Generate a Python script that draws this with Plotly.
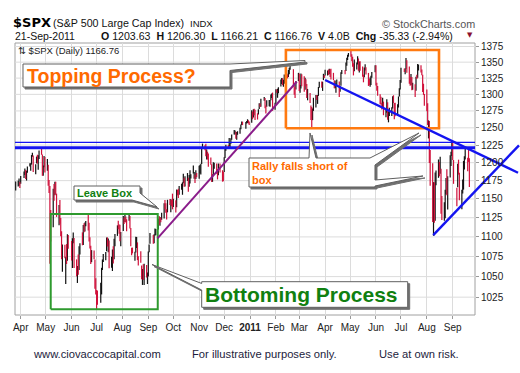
import math
import pandas as pd
import plotly.graph_objects as go

# ---------------- data (S&P 500 daily bars) ----------------
HOLIDAYS = ['2010-04-02', '2010-05-31', '2010-07-05', '2010-09-06', '2010-11-25',
            '2010-12-24', '2011-01-17', '2011-02-21', '2011-04-22', '2011-05-30',
            '2011-07-04', '2011-09-05']
FIRST_DAY, LAST_DAY = '2010-03-26', '2011-09-21'

CLOSE = [
    1166.6, 1173.2, 1173.3, 1169.4,  # Mar 2010
    1178.1, 1187.4, 1189.4, 1182.5, 1186.4, 1194.4, 1196.5, 1197.3, 1210.7, 1211.7, 1192.1,
    1197.5, 1207.2, 1205.9, 1208.7, 1217.3, 1212.1, 1183.7, 1191.4, 1206.8, 1186.7,  # Apr
    1202.3, 1173.6, 1165.9, 1128.2, 1110.9, 1159.7, 1155.8, 1171.7, 1157.4, 1135.7,
    1136.9, 1120.8, 1115.1, 1071.6, 1087.7, 1073.7, 1074.0, 1068.0, 1103.1, 1089.4,  # May
    1070.7, 1098.4, 1102.8, 1064.9, 1050.5, 1062.0, 1055.7, 1086.8, 1091.6, 1089.6, 1115.2,
    1114.6, 1116.0, 1117.5, 1113.2, 1095.3, 1092.0, 1073.7, 1076.8, 1074.6, 1041.2, 1030.7,  # Jun
    1027.4, 1022.6, 1028.1, 1060.3, 1070.3, 1078.0, 1078.8, 1095.3, 1095.2, 1096.5, 1064.9,
    1071.3, 1083.5, 1069.6, 1093.7, 1102.7, 1115.0, 1113.8, 1106.1, 1101.5, 1101.6,  # Jul
    1125.9, 1120.5, 1127.2, 1125.8, 1121.6, 1127.8, 1121.1, 1089.5, 1083.6, 1079.3, 1079.4,
    1092.5, 1094.2, 1075.6, 1071.7, 1067.4, 1051.9, 1055.3, 1047.2, 1064.6, 1048.9, 1049.3,  # Aug
    1080.3, 1090.1, 1104.5, 1091.8, 1098.9, 1104.2, 1109.6, 1121.9, 1121.1, 1125.1, 1124.7,
    1125.6, 1142.7, 1139.8, 1134.3, 1124.8, 1148.7, 1142.2, 1147.7, 1144.7, 1141.2,  # Sep
    1146.2, 1137.0, 1160.8, 1160.0, 1158.1, 1165.2, 1165.3, 1169.8, 1178.1, 1173.8, 1176.2,
    1184.7, 1165.9, 1178.2, 1180.3, 1183.1, 1185.6, 1185.6, 1182.4, 1183.8, 1183.3,  # Oct
    1184.4, 1193.6, 1198.0, 1221.1, 1225.9, 1223.3, 1213.4, 1218.7, 1213.5, 1199.2, 1197.8,
    1178.3, 1178.6, 1196.7, 1199.7, 1197.8, 1180.7, 1198.4, 1189.4, 1187.8, 1180.6,  # Nov
    1206.1, 1221.5, 1224.7, 1223.1, 1223.8, 1228.3, 1233.0, 1240.4, 1240.5, 1241.6, 1235.2,
    1242.9, 1243.9, 1247.1, 1254.6, 1258.8, 1256.8, 1257.5, 1258.5, 1259.8, 1257.9, 1257.6,  # Dec
    1271.9, 1270.2, 1276.6, 1273.9, 1271.5, 1269.8, 1274.5, 1286.0, 1283.8, 1293.2,
    1295.0, 1281.9, 1280.3, 1283.4, 1290.8, 1291.2, 1296.6, 1299.5, 1276.3, 1286.1,  # Jan 2011
    1307.6, 1304.0, 1307.1, 1310.9, 1319.1, 1324.6, 1320.9, 1321.9, 1329.2, 1332.3,
    1328.0, 1336.3, 1340.4, 1343.0, 1315.4, 1307.4, 1306.1, 1319.9, 1327.2,  # Feb
    1306.3, 1308.4, 1331.0, 1321.2, 1310.1, 1321.8, 1320.0, 1295.1, 1304.3, 1296.4, 1281.9, 1256.9,
    1273.7, 1279.2, 1298.4, 1293.8, 1297.5, 1309.7, 1313.8, 1310.2, 1319.4, 1328.3, 1325.8,  # Mar
    1332.4, 1332.9, 1332.6, 1335.5, 1333.5, 1328.2, 1324.5, 1314.2, 1314.4, 1314.5,
    1319.7, 1305.1, 1312.6, 1330.4, 1337.4, 1335.3, 1347.2, 1355.7, 1360.5, 1363.6,  # Apr
    1361.2, 1356.6, 1347.3, 1335.1, 1340.2, 1346.3, 1357.2, 1342.1, 1348.7, 1337.8, 1329.5,
    1329.0, 1340.7, 1343.6, 1333.3, 1317.4, 1316.3, 1320.5, 1325.7, 1331.1, 1345.2,  # May
    1314.6, 1312.9, 1300.2, 1286.2, 1284.9, 1279.6, 1289.0, 1271.0, 1271.8, 1287.9, 1265.4,
    1267.6, 1271.5, 1278.4, 1295.5, 1287.1, 1283.5, 1268.5, 1280.1, 1296.7, 1307.4, 1320.6,  # Jun
    1339.7, 1337.9, 1339.2, 1353.2, 1343.8, 1319.5, 1313.6, 1317.7, 1308.9, 1316.1,
    1305.4, 1326.7, 1325.8, 1343.8, 1345.0, 1337.4, 1331.9, 1304.9, 1300.7, 1292.3,  # Jul
    1286.9, 1254.1, 1260.3, 1200.1, 1199.4, 1119.5, 1172.5, 1120.8, 1172.6, 1178.8, 1204.5, 1192.8,
    1193.9, 1140.7, 1123.5, 1123.8, 1162.4, 1177.6, 1159.3, 1176.8, 1210.1, 1212.9, 1218.9,  # Aug
    1204.4, 1174.0, 1165.2, 1198.6, 1185.9, 1154.2, 1162.3, 1172.9, 1188.7, 1209.1,
    1216.0, 1204.1, 1202.1, 1166.8,  # Sep
]
HIGH = [
    1173.9, 1174.9, 1177.8, 1173.1,
    1181.4, 1187.7, 1191.8, 1189.6, 1188.6, 1194.7, 1199.2, 1199.0, 1210.7, 1213.9, 1210.2,
    1197.9, 1208.6, 1211.0, 1210.3, 1217.3, 1219.8, 1211.4, 1195.9, 1209.4, 1207.9,
    1205.1, 1197.0, 1176.0, 1167.6, 1135.1, 1163.9, 1170.5, 1173.6, 1173.6, 1157.2,
    1141.9, 1148.7, 1124.8, 1107.3, 1090.2, 1090.0, 1074.8, 1090.8, 1103.5, 1102.6,
    1094.8, 1098.4, 1105.7, 1098.6, 1071.4, 1063.1, 1077.7, 1087.9, 1092.0, 1105.9, 1115.6,
    1117.7, 1118.7, 1120.7, 1131.2, 1118.5, 1099.6, 1088.6, 1083.1, 1082.6, 1071.2, 1048.1,
    1033.6, 1032.9, 1042.5, 1060.9, 1071.3, 1078.2, 1080.8, 1099.1, 1099.4, 1098.1, 1095.3,
    1074.7, 1083.9, 1088.0, 1097.5, 1103.7, 1115.0, 1121.0, 1116.1, 1115.9, 1106.4,
    1127.3, 1125.4, 1128.7, 1126.6, 1123.0, 1129.3, 1127.2, 1111.4, 1086.1, 1086.3, 1081.0,
    1100.1, 1099.8, 1093.0, 1075.3, 1081.6, 1063.7, 1059.4, 1065.2, 1065.8, 1064.5, 1055.1,
    1081.3, 1090.1, 1105.1, 1102.6, 1103.3, 1110.9, 1110.3, 1123.5, 1127.4, 1126.0, 1125.4,
    1131.5, 1144.4, 1148.6, 1144.4, 1136.1, 1148.9, 1149.9, 1150.0, 1148.6, 1157.2,
    1150.3, 1148.2, 1162.8, 1162.3, 1163.9, 1167.7, 1170.6, 1172.6, 1184.4, 1178.9, 1181.2,
    1185.5, 1178.8, 1182.9, 1189.4, 1183.9, 1196.1, 1187.1, 1183.1, 1189.5, 1185.5,
    1195.8, 1196.6, 1198.3, 1222.1, 1227.1, 1224.6, 1226.8, 1218.8, 1215.5, 1213.0, 1207.4,
    1197.8, 1183.6, 1200.7, 1200.0, 1198.9, 1190.8, 1198.9, 1198.9, 1189.4, 1187.4,
    1207.6, 1221.9, 1225.6, 1225.0, 1235.1, 1228.9, 1234.7, 1240.4, 1246.7, 1246.1, 1244.3,
    1243.8, 1245.0, 1250.0, 1255.0, 1259.4, 1259.0, 1258.6, 1259.9, 1262.6, 1261.1, 1259.3,
    1276.2, 1274.1, 1277.6, 1278.2, 1276.8, 1271.5, 1277.6, 1286.6, 1286.1, 1293.2,
    1296.1, 1294.6, 1283.0, 1291.2, 1291.3, 1291.3, 1299.7, 1301.3, 1302.7, 1287.2,
    1308.0, 1307.6, 1308.6, 1311.0, 1322.9, 1325.0, 1324.9, 1322.4, 1330.8, 1332.3,
    1330.8, 1337.8, 1341.3, 1344.1, 1338.9, 1318.0, 1310.9, 1320.6, 1333.2,
    1332.3, 1314.4, 1332.3, 1331.1, 1327.7, 1325.7, 1323.2, 1315.7, 1308.3, 1301.9, 1283.1, 1280.9,
    1278.7, 1294.8, 1299.0, 1299.0, 1299.0, 1311.3, 1319.2, 1319.7, 1319.4, 1331.7, 1329.8,
    1337.9, 1336.7, 1338.2, 1339.5, 1338.8, 1339.5, 1333.2, 1321.4, 1321.4, 1316.8,
    1322.9, 1319.7, 1312.9, 1334.0, 1337.5, 1337.5, 1349.6, 1357.1, 1361.7, 1364.6,
    1370.6, 1362.6, 1358.6, 1348.2, 1354.4, 1349.4, 1359.4, 1355.9, 1351.0, 1351.6, 1343.3,
    1330.4, 1341.7, 1346.8, 1342.0, 1333.1, 1323.7, 1325.9, 1328.5, 1334.6, 1345.2,
    1345.2, 1318.0, 1312.9, 1300.2, 1296.2, 1287.3, 1294.9, 1289.0, 1277.0, 1292.5, 1287.9,
    1274.1, 1279.8, 1280.4, 1297.1, 1298.6, 1286.8, 1287.4, 1284.9, 1296.8, 1309.2, 1322.0,
    1341.0, 1340.0, 1340.1, 1356.5, 1353.0, 1343.3, 1327.2, 1331.5, 1326.7, 1317.7,
    1315.5, 1327.0, 1330.4, 1347.0, 1346.1, 1345.0, 1338.5, 1330.3, 1316.3, 1300.4,
    1307.4, 1286.6, 1261.0, 1260.1, 1218.1, 1199.0, 1172.9, 1172.6, 1186.3, 1189.0, 1204.5, 1201.1,
    1208.5, 1191.5, 1154.1, 1145.5, 1162.4, 1178.6, 1190.7, 1181.2, 1210.3, 1215.4, 1230.7,
    1229.3, 1203.7, 1165.3, 1198.6, 1204.2, 1185.9, 1162.6, 1176.4, 1202.4, 1209.1,
    1220.1, 1207.1, 1220.4, 1206.3,
]
LOW = [
    1161.5, 1167.0, 1168.0, 1165.0,
    1170.7, 1178.6, 1182.8, 1177.2, 1175.1, 1186.0, 1194.7, 1188.8, 1197.3, 1208.5, 1186.8,
    1183.7, 1199.0, 1198.9, 1190.2, 1205.1, 1211.1, 1181.6, 1181.8, 1193.4, 1186.3,
    1188.6, 1168.1, 1158.2, 1065.8, 1094.2, 1112.4, 1147.7, 1155.0, 1156.1, 1126.1,
    1115.0, 1117.2, 1100.7, 1071.6, 1055.9, 1072.7, 1040.8, 1065.6, 1069.7, 1084.8,
    1069.9, 1060.5, 1091.8, 1060.7, 1050.3, 1042.2, 1052.3, 1058.3, 1077.4, 1089.3, 1089.6,
    1105.9, 1107.1, 1113.8, 1108.2, 1094.2, 1085.3, 1065.6, 1067.9, 1071.5, 1035.2, 1028.3,
    1010.9, 1015.9, 1018.4, 1028.3, 1058.2, 1068.1, 1070.4, 1081.7, 1087.7, 1080.5, 1060.3,
    1061.1, 1056.9, 1066.2, 1071.7, 1087.9, 1101.3, 1109.8, 1104.1, 1094.3, 1088.0,
    1107.7, 1116.8, 1119.5, 1118.8, 1107.2, 1120.9, 1111.0, 1088.0, 1076.7, 1079.0, 1069.6,
    1080.0, 1085.8, 1070.5, 1063.9, 1067.1, 1046.7, 1039.8, 1045.9, 1039.7, 1048.8, 1040.9,
    1050.0, 1080.4, 1091.3, 1091.2, 1091.8, 1101.7, 1102.0, 1109.6, 1115.6, 1114.6, 1118.9,
    1122.4, 1124.1, 1136.2, 1131.6, 1122.8, 1132.1, 1142.0, 1132.1, 1140.3, 1136.1,
    1139.4, 1131.9, 1139.0, 1154.9, 1151.4, 1155.6, 1162.5, 1155.7, 1171.3, 1166.7, 1167.1,
    1174.6, 1159.7, 1166.7, 1171.2, 1178.0, 1184.7, 1177.7, 1171.7, 1177.1, 1179.7,
    1177.6, 1184.7, 1183.6, 1198.0, 1220.4, 1217.6, 1208.9, 1204.3, 1204.5, 1194.1, 1197.2,
    1173.0, 1173.3, 1181.4, 1191.3, 1184.6, 1176.7, 1182.5, 1186.3, 1173.6, 1174.1,
    1187.0, 1206.6, 1216.8, 1220.7, 1223.3, 1219.5, 1226.9, 1232.6, 1240.3, 1240.3, 1234.0,
    1232.8, 1239.9, 1241.5, 1247.8, 1254.2, 1254.0, 1248.6, 1256.2, 1257.2, 1256.3, 1254.2,
    1257.6, 1262.7, 1265.4, 1268.7, 1261.7, 1262.2, 1269.6, 1277.8, 1280.9, 1281.1,
    1290.2, 1278.9, 1271.3, 1281.1, 1282.1, 1281.1, 1291.0, 1294.4, 1275.1, 1276.6,
    1286.1, 1302.6, 1294.8, 1301.7, 1312.0, 1316.0, 1314.1, 1311.7, 1316.1, 1326.9,
    1324.6, 1326.6, 1331.0, 1338.1, 1312.3, 1299.3, 1294.3, 1307.3, 1320.3,
    1305.3, 1302.6, 1309.1, 1312.6, 1304.0, 1306.9, 1312.3, 1294.3, 1291.0, 1287.0, 1261.6, 1249.1,
    1261.3, 1275.1, 1280.1, 1291.6, 1285.6, 1297.7, 1310.2, 1310.2, 1305.3, 1321.9, 1325.0,
    1328.9, 1329.1, 1330.0, 1330.9, 1326.6, 1322.9, 1321.8, 1309.2, 1309.5, 1302.4,
    1313.7, 1295.9, 1304.0, 1313.1, 1331.5, 1331.1, 1336.0, 1344.4, 1353.6, 1358.7,
    1358.6, 1351.4, 1342.6, 1329.2, 1335.6, 1338.6, 1346.3, 1336.4, 1333.6, 1336.6, 1327.3,
    1318.5, 1326.3, 1336.7, 1330.7, 1312.9, 1313.9, 1311.8, 1314.4, 1325.7, 1334.0,
    1313.7, 1305.6, 1297.9, 1284.9, 1284.7, 1277.1, 1279.3, 1268.6, 1265.6, 1272.2, 1261.9,
    1258.1, 1267.4, 1267.6, 1278.5, 1286.8, 1262.7, 1267.2, 1267.5, 1280.1, 1296.7, 1307.6,
    1318.0, 1334.6, 1330.9, 1339.2, 1333.2, 1316.4, 1313.3, 1314.5, 1306.3, 1307.1,
    1295.9, 1305.4, 1323.7, 1325.5, 1336.9, 1333.9, 1329.6, 1303.6, 1299.2, 1282.9,
    1274.7, 1254.0, 1234.6, 1199.5, 1168.1, 1119.3, 1101.5, 1118.4, 1121.1, 1168.7, 1178.9, 1180.9,
    1184.4, 1130.1, 1122.0, 1121.1, 1124.4, 1156.3, 1155.1, 1135.9, 1179.4, 1195.2, 1209.4,
    1203.9, 1170.6, 1140.1, 1165.9, 1183.3, 1148.4, 1136.1, 1157.4, 1162.7, 1190.3,
    1204.5, 1188.0, 1201.0, 1166.2,
]

# annotation lines (date, price) pairs
PURPLE_LINE = [('2010-09-12', 1098.2), ('2011-02-26', 1319.4)]
BLUE_DOWN_LINE = [('2011-04-01', 1322.0), ('2011-11-18 08:00', 1185.9)]
BLUE_UP_LINE = [('2011-08-08 16:00', 1102.4), ('2011-11-19 12:00', 1224.6)]
RESIST_THIN, RESIST_THICK = 1228.9, 1221.2
ORANGE_BOX = [('2011-02-13', '2011-08-15 14:00'), (1249.3, 1369.4)]
GREEN_BOX = [('2010-05-07', '2010-09-12 08:00'), (1010.7, 1129.9)]

Y_TICKS = list(range(1025, 1376, 25))
MONTH_TICKS = ['2010-04-01', '2010-05-01', '2010-06-01', '2010-07-01', '2010-08-01', '2010-09-01',
               '2010-10-01', '2010-11-01', '2010-12-01', '2011-01-01', '2011-02-01', '2011-03-01',
               '2011-04-01', '2011-05-01', '2011-06-01', '2011-07-01', '2011-08-01', '2011-09-01']
MONTH_LABELS = ['Apr', 'May', 'Jun', 'Jul', 'Aug', 'Sep', 'Oct', 'Nov', 'Dec', '<b>2011</b>',
                'Feb', 'Mar', 'Apr', 'May', 'Jun', 'Jul', 'Aug', 'Sep']

# ---------------- layout geometry ----------------
W, H = 520, 373
ML, MR, MT, MB = 15, 0, 43, 58
PW, PH = W - ML - MR, H - MT - MB
FRAME_FRAC = 460 / PW
X_START = pd.Timestamp('2010-03-25 04:00')
X_END = pd.Timestamp('2011-11-20 17:00')
FRAME_END = X_START + (X_END - X_START) * FRAME_FRAC
Y_MIN, Y_MAX = 1003.8, 1380.65

UP_COLOR, DOWN_COLOR = '#111111', '#D0103A'
GRID = '#DCDCDC'
ORANGE, GREEN, BLUE, PURPLE = '#FF6A00', '#2E9A2E', '#1414F0', '#8A1C8A'
FONT = 'Liberation Sans, Arial, sans-serif'

dates = pd.bdate_range(FIRST_DAY, LAST_DAY)
dates = dates[~dates.isin(pd.to_datetime(HOLIDAYS))]
n = min(len(dates), len(CLOSE), len(HIGH), len(LOW))

fig = go.Figure()

# horizontal grid (inside the frame only)
gx, gy = [], []
for v in Y_TICKS:
    gx += [X_START, FRAME_END, None]
    gy += [v, v, None]
fig.add_trace(go.Scatter(x=gx, y=gy, mode='lines', line=dict(color=GRID, width=1),
                         hoverinfo='skip'))

# price bars
ux, uy, dx, dy = [], [], [], []
prev = None
for i in range(n):
    d, h, l, c = dates[i], HIGH[i], LOW[i], CLOSE[i]
    if prev is None or c >= prev:
        ux += [d, d, None]; uy += [l, h, None]
    else:
        dx += [d, d, None]; dy += [l, h, None]
    prev = c
fig.add_trace(go.Scatter(x=ux, y=uy, mode='lines', line=dict(color=UP_COLOR, width=1.2),
                         hoverinfo='skip'))
fig.add_trace(go.Scatter(x=dx, y=dy, mode='lines', line=dict(color=DOWN_COLOR, width=1.2),
                         hoverinfo='skip'))

# boxes
def rect_trace(box, color, width):
    (x0, x1), (y0, y1) = box
    return go.Scatter(x=[x0, x1, x1, x0, x0], y=[y0, y0, y1, y1, y0], mode='lines',
                      line=dict(color=color, width=width), hoverinfo='skip')

fig.add_trace(rect_trace(GREEN_BOX, GREEN, 2))
fig.add_trace(rect_trace(ORANGE_BOX, '#FF7A10', 2.6))

# resistance lines
fig.add_trace(go.Scatter(x=[X_START, FRAME_END], y=[RESIST_THIN] * 2, mode='lines',
                         line=dict(color=BLUE, width=1.4), hoverinfo='skip'))
fig.add_trace(go.Scatter(x=[X_START, FRAME_END], y=[RESIST_THICK] * 2, mode='lines',
                         line=dict(color=BLUE, width=3), hoverinfo='skip'))

# trend lines
for pts, col, wd in [(PURPLE_LINE, PURPLE, 2), (BLUE_DOWN_LINE, BLUE, 2.4), (BLUE_UP_LINE, BLUE, 2.4)]:
    fig.add_trace(go.Scatter(x=[p[0] for p in pts], y=[p[1] for p in pts], mode='lines',
                             line=dict(color=col, width=wd), hoverinfo='skip'))

# ---------------- callouts (pixel layout -> paper) ----------------
def pxx(x):
    return (x - ML) / PW

def pxy(y):
    return (H - MB - y) / PH

def path(points, ox=0, oy=0):
    return 'M ' + ' L '.join(f'{pxx(x + ox):.5f},{pxy(y + oy):.5f}' for x, y in points) + ' Z'

CALLOUTS = [
    [(23, 64), (230, 64), (305, 60.5), (305, 62), (230, 70.5), (230, 87), (23, 87)],
    [(249, 158), (309, 158), (310, 133), (316, 158), (370, 158), (419, 133), (375, 165),
     (375, 180), (423, 176), (375, 186), (375, 187), (249, 187)],
    [(74, 186), (140, 186), (140, 193), (157, 207), (132, 200), (74, 200)],
    [(201.7, 281.7), (407.7, 281.7), (407.7, 307.3), (201.7, 307.3), (201.7, 290),
     (152, 264.5), (201.7, 283.5)],
]
shapes = [dict(type='rect', xref='paper', yref='paper', x0=0, x1=FRAME_FRAC, y0=0, y1=1,
               line=dict(color='#A0A0A0', width=1), layer='below')]
for pts in CALLOUTS:
    shapes.append(dict(type='path', xref='paper', yref='paper', path=path(pts, 2, 2),
                       fillcolor='#707070', line=dict(color='#707070', width=1), layer='above'))
    shapes.append(dict(type='path', xref='paper', yref='paper', path=path(pts),
                       fillcolor='white', line=dict(color='#606060', width=1), layer='above'))

def ann(text, x, y, size, color='#111', xanchor='left', family=FONT, align='left'):
    return dict(text=text, x=pxx(x), y=pxy(y), xref='paper', yref='paper', showarrow=False,
                xanchor=xanchor, yanchor='middle', align=align,
                font=dict(family=family, size=size, color=color))

annotations = [
    ann('<b>$SPX</b>', 10.5, 22.5, 13, '#000', family='DejaVu Sans, sans-serif'),
    ann('(S&P 500 Large Cap Index)', 51, 23, 10.7, '#111'),
    ann('INDX', 187.5, 23.5, 9.5, '#111'),
    ann('21-Sep-2011', 12.5, 35.5, 10.5, '#111'),
    ann('<b>O</b> 1203.63  <b>H</b> 1206.30  <b>L</b> 1166.21  <b>C</b> 1166.76  '
        '<b>V</b> 4.0B  <b>Chg</b> -35.33 (-2.94%)', 98.5, 35.5, 10.6, '#111'),
    ann('▼', 470, 35, 7, '#8B1030', xanchor='center', family='DejaVu Sans, sans-serif'),
    ann('© StockCharts.com', 477, 24.5, 10.8, '#555', xanchor='right'),
    ann('<span style="font-family:DejaVu Sans">⇅</span> $SPX (Daily) 1166.76', 15.5, 50.5, 9.5, '#222'),
    ann('<b>Topping Process?</b>', 25, 75.5, 19.5, ORANGE),
    ann('<b>Rally falls short of<br>box</b>', 249.5, 173, 11, ORANGE),
    ann('<b>Leave Box</b>', 75, 193, 11, '#108010'),
    ann('<b>Bottoming Process</b>', 202.5, 294.5, 21, '#108010'),
    ann('www.ciovaccocapital.com', 97, 353.5, 11.2, '#1C1C3C', xanchor='center'),
    ann('For illustrative purposes only.', 264, 353.5, 11.2, '#1C1C3C', xanchor='center'),
    ann('Use at own risk.', 419, 353.5, 11.2, '#1C1C3C', xanchor='center'),
]

fig.update_layout(
    width=W, height=H, margin=dict(l=ML, r=MR, t=MT, b=MB, pad=0, autoexpand=False),
    paper_bgcolor='white', plot_bgcolor='white', showlegend=False,
    shapes=shapes, annotations=annotations,
    xaxis=dict(type='date', range=[X_START, X_END], domain=[0, 1], automargin=False,
               tickvals=MONTH_TICKS, ticktext=MONTH_LABELS,
               showgrid=True, gridcolor=GRID, gridwidth=1, zeroline=False, showline=False,
               ticks='outside', ticklen=3, tickcolor='#999',
               tickfont=dict(family=FONT, size=10, color='#222')),
    yaxis=dict(type='log', range=[math.log10(Y_MIN), math.log10(Y_MAX)], automargin=False,
               anchor='free', position=FRAME_FRAC, side='right',
               tickvals=Y_TICKS, ticktext=[str(v) for v in Y_TICKS],
               showgrid=False, zeroline=False, showline=False,
               ticks='outside', ticklen=3, tickcolor='#999',
               tickfont=dict(family=FONT, size=10, color='#222')),
)

fig.write_html('out.html', config={'displayModeBar': False, 'staticPlot': True},
               post_script="document.body.style.margin='0';document.body.style.padding='0';")
